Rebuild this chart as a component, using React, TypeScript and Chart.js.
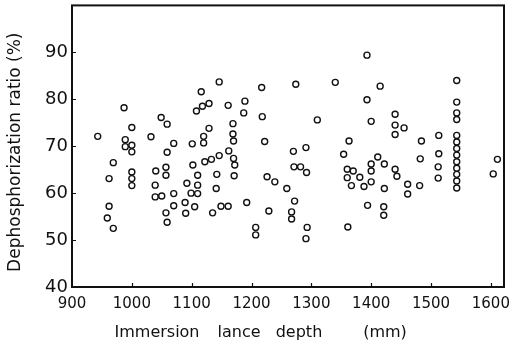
import React, { useEffect, useRef } from "react";
import { Chart, registerables } from "chart.js";

Chart.register(...registerables);

// Immersion lance depth (mm) for each heat
const depthMm: number[] = [
  943, 962, 962, 959, 969, 969, 987, 989, 989, 1000,
  1000, 1000, 1000, 1000, 1000, 1032, 1040, 1039, 1039, 1050,
  1049, 1059, 1059, 1057, 1057, 1057, 1059, 1070, 1070, 1070,
  1092, 1089, 1090, 1099, 1101, 1102, 1110, 1110, 1110, 1105,
  1108, 1116, 1118, 1129, 1120, 1120, 1122, 1133, 1129, 1146,
  1146, 1142, 1141, 1135, 1149, 1161, 1161, 1169, 1169, 1170,
  1162, 1170, 1172, 1171, 1189, 1187, 1192, 1207, 1207, 1217,
  1218, 1222, 1226, 1239, 1229, 1259, 1272, 1267, 1267, 1274,
  1270, 1291, 1271, 1282, 1292, 1293, 1291, 1310, 1340, 1363,
  1354, 1360, 1370, 1360, 1367, 1361, 1381, 1388, 1393, 1393,
  1415, 1400, 1411, 1400, 1400, 1400, 1422, 1394, 1422, 1421,
  1421, 1440, 1440, 1455, 1440, 1440, 1443, 1461, 1461, 1481,
  1484, 1482, 1513, 1513, 1512, 1512,
  1543, 1543, 1543, 1543, 1543, 1543, 1543, 1543, 1543, 1543,
  1543, 1543, 1543,
  1611, 1604,
];

// Dephosphorization ratio (%) for the same heats
const dephosRatio: number[] = [
  72.1, 63.1, 57.2, 54.7, 52.5, 66.5, 78.2, 71.4, 69.9, 74.0,
  70.2, 68.8, 64.5, 63.1, 61.6, 72.0, 64.7, 61.7, 59.2, 59.4,
  76.1, 74.7, 68.7, 65.5, 63.8, 55.8, 53.8, 70.6, 59.9, 57.3,
  62.1, 58.0, 55.7, 60.0, 70.5, 66.0, 63.8, 61.7, 59.9, 57.1,
  77.5, 81.6, 78.5, 79.1, 72.1, 70.7, 66.7, 67.2, 73.8, 83.7,
  68.0, 64.0, 61.0, 55.8, 57.2, 57.2, 78.7, 74.8, 72.6, 71.1,
  69.0, 67.4, 66.0, 63.7, 79.6, 77.1, 58.0, 52.7, 51.1, 82.5,
  76.3, 71.0, 63.5, 62.4, 56.2, 61.0, 58.3, 56.0, 54.5, 83.2,
  68.9, 69.7, 65.6, 65.6, 64.4, 52.7, 50.3, 75.6, 83.6, 71.1,
  68.3, 65.1, 64.7, 63.3, 61.6, 52.8, 63.4, 61.4, 89.4, 79.9,
  82.8, 75.3, 67.7, 66.2, 64.7, 62.4, 66.2, 57.4, 61.0, 57.1,
  55.3, 76.8, 74.5, 73.9, 72.5, 65.1, 63.6, 61.9, 59.8, 61.6,
  71.1, 67.3, 72.3, 68.4, 65.6, 63.2,
  84.0, 79.4, 77.1, 75.7, 72.3, 70.9, 69.5, 68.1, 66.7, 65.3,
  64.0, 62.6, 61.1,
  67.2, 64.1,
];

// Axis ticks
const depthTicks: number[] = [900, 1000, 1100, 1200, 1300, 1400, 1500, 1600];
const ratioTicks: number[] = [40, 50, 60, 70, 80, 90];

// Axis titles (x title words are spaced out along the axis)
const xTitleWords: string[] = ["Immersion", "lance", "depth", "(mm)"];
const xTitleCenters: number[] = [85, 167, 227, 313]; // offsets from plot left edge
const yTitle = "Dephosphorization ratio (%)";

const INK = "#111111";
const FONT = '"DejaVu Sans", sans-serif';

// Draws the boxed frame, inward tick marks and both axis titles
const framePlugin = {
  id: "frameAndTitles",
  afterDraw(chart: any) {
    const { ctx, chartArea: a, scales } = chart;
    ctx.save();
    ctx.strokeStyle = INK;
    ctx.lineWidth = 2;
    ctx.strokeRect(a.left, a.top, a.right - a.left, a.bottom - a.top);

    ctx.lineWidth = 1.2;
    ctx.beginPath();
    depthTicks.slice(1).forEach((v) => {
      const px = Math.round(scales.x.getPixelForValue(v)) + 0.5;
      ctx.moveTo(px, a.bottom);
      ctx.lineTo(px, a.bottom - 4);
    });
    ratioTicks.slice(1).forEach((v) => {
      const py = Math.round(scales.y.getPixelForValue(v)) + 0.5;
      ctx.moveTo(a.left, py);
      ctx.lineTo(a.left + 4, py);
    });
    ctx.stroke();

    ctx.fillStyle = INK;
    ctx.font = `16px ${FONT}`;
    ctx.textBaseline = "middle";
    ctx.textAlign = "center";
    xTitleWords.forEach((w, i) => {
      ctx.fillText(w, a.left + xTitleCenters[i], a.bottom + 46);
    });

    ctx.font = `17px ${FONT}`;
    ctx.translate(16, (a.top + a.bottom) / 2 + 6);
    ctx.rotate(-Math.PI / 2);
    ctx.fillText(yTitle, 0, 0);
    ctx.restore();
  },
};

export default function App() {
  const canvasRef = useRef<HTMLCanvasElement | null>(null);

  useEffect(() => {
    if (!canvasRef.current) return;
    const points = depthMm.map((x, i) => ({ x, y: dephosRatio[i] }));
    const chart = new Chart(canvasRef.current, {
      type: "scatter",
      data: {
        datasets: [
          {
            data: points,
            pointStyle: "circle",
            pointRadius: 3,
            pointBorderWidth: 1.4,
            pointBorderColor: INK,
            pointBackgroundColor: "rgba(255,255,255,0)",
          },
        ],
      },
      options: {
        animation: false,
        responsive: false,
        events: [],
        layout: { padding: { top: 5, right: 11, left: 0, bottom: 0 } },
        plugins: {
          legend: { display: false },
          tooltip: { enabled: false },
        },
        scales: {
          x: {
            type: "linear",
            min: 900,
            max: 1622,
            grid: { display: false, drawTicks: false },
            border: { display: false },
            afterBuildTicks: (scale: any) => {
              scale.ticks = depthTicks.map((value) => ({ value }));
            },
            ticks: {
              padding: 8,
              color: INK,
              font: { family: FONT, size: 15 },
              callback: (v: any) => String(v),
            },
            afterFit: (scale: any) => {
              scale.height = 59;
              scale.paddingLeft = 0;
              scale.paddingRight = 0;
            },
          },
          y: {
            type: "linear",
            min: 40,
            max: 100,
            grid: { display: false, drawTicks: false },
            border: { display: false },
            afterBuildTicks: (scale: any) => {
              scale.ticks = ratioTicks.map((value) => ({ value }));
            },
            ticks: {
              padding: 4,
              color: INK,
              font: { family: FONT, size: 18 },
              callback: (v: any) => String(v),
            },
            afterFit: (scale: any) => {
              scale.width = 72;
              scale.paddingTop = 0;
              scale.paddingBottom = 0;
            },
          },
        },
      },
      plugins: [framePlugin],
    });
    return () => chart.destroy();
  }, []);

  return (
    <div style={{ position: "fixed", left: 0, top: 0, width: 515, height: 346, background: "#fff" }}>
      <canvas ref={canvasRef} width={515} height={346} />
    </div>
  );
}
